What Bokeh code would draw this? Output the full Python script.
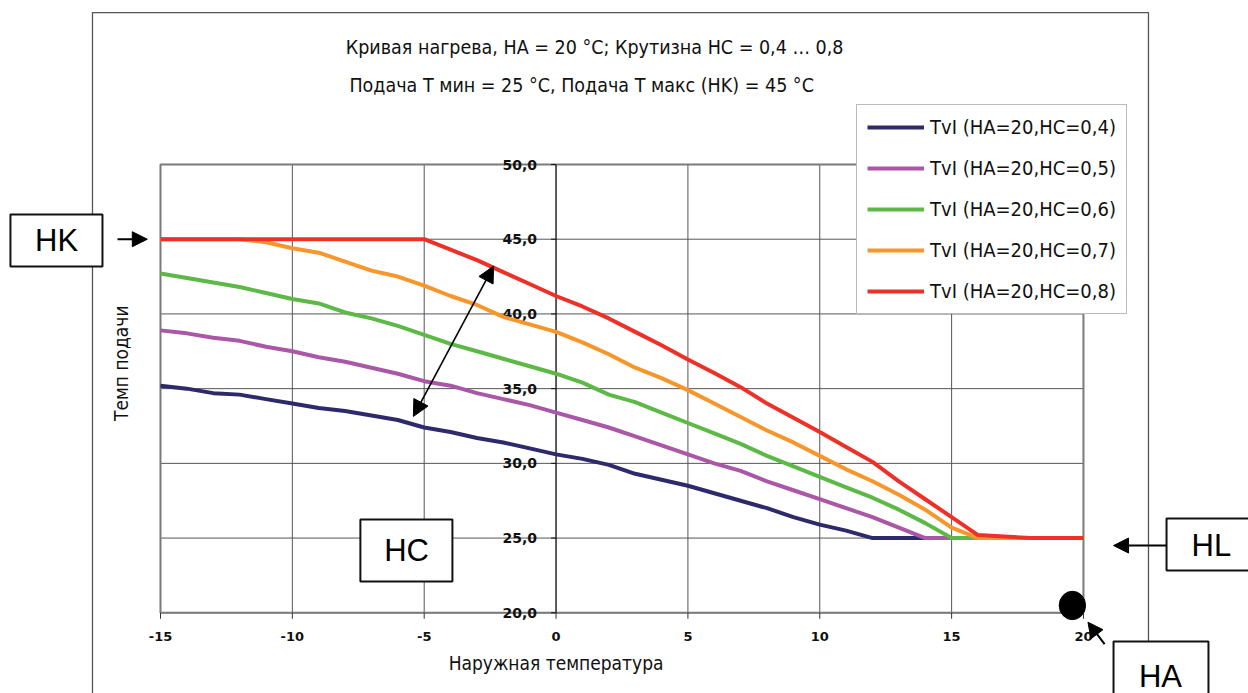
from bokeh.plotting import figure
from bokeh.models import Range1d, Arrow, NormalHead
from bokeh.core.properties import value
from bokeh.embed import file_html
from bokeh.resources import INLINE

# ---------------- data ----------------
temps = list(range(-15, 21))
hc04 = [35.2, 35.0, 34.7, 34.6, 34.3, 34.0, 33.7, 33.5, 33.2, 32.9,
        32.4, 32.1, 31.7, 31.4, 31.0, 30.6, 30.3, 29.9, 29.3, 28.9,
        28.5, 28.0, 27.5, 27.0, 26.4, 25.9, 25.5, 25.0, 25.0, 25.0,
        25.0, 25.0, 25.0, 25.0, 25.0, 25.0]
hc05 = [38.9, 38.7, 38.4, 38.2, 37.8, 37.5, 37.1, 36.8, 36.4, 36.0,
        35.5, 35.2, 34.7, 34.3, 33.9, 33.4, 32.9, 32.4, 31.8, 31.2,
        30.6, 30.0, 29.5, 28.8, 28.2, 27.6, 27.0, 26.4, 25.7, 25.0,
        25.0, 25.0, 25.0, 25.0, 25.0, 25.0]
hc06 = [42.7, 42.4, 42.1, 41.8, 41.4, 41.0, 40.7, 40.1, 39.7, 39.2,
        38.6, 38.0, 37.5, 37.0, 36.5, 36.0, 35.4, 34.6, 34.1, 33.4,
        32.7, 32.0, 31.3, 30.5, 29.8, 29.1, 28.4, 27.7, 26.9, 26.0,
        25.0, 25.0, 25.0, 25.0, 25.0, 25.0]
hc07 = [45.0, 45.0, 45.0, 45.0, 44.8, 44.4, 44.1, 43.5, 42.9, 42.5,
        41.9, 41.2, 40.6, 39.8, 39.3, 38.8, 38.1, 37.3, 36.4, 35.7,
        34.9, 34.0, 33.1, 32.2, 31.4, 30.5, 29.6, 28.8, 27.9, 26.9,
        25.7, 25.0, 25.0, 25.0, 25.0, 25.0]
hc08 = [45.0, 45.0, 45.0, 45.0, 45.0, 45.0, 45.0, 45.0, 45.0, 45.0,
        45.0, 44.3, 43.6, 42.8, 42.0, 41.2, 40.5, 39.7, 38.8, 37.9,
        36.95, 36.05, 35.1, 34.0, 33.05, 32.1, 31.1, 30.1, 28.8, 27.6,
        26.4, 25.2, 25.1, 25.0, 25.0, 25.0]

series = [hc04, hc05, hc06, hc07, hc08]
series_names = ["TvI (HA=20,HC=0,4)", "TvI (HA=20,HC=0,5)", "TvI (HA=20,HC=0,6)",
                "TvI (HA=20,HC=0,7)", "TvI (HA=20,HC=0,8)"]
colors = ["#2d2a6c", "#a957a6", "#5cb946", "#f7962b", "#ee3128"]

x_ticks = [-15, -10, -5, 0, 5, 10, 15, 20]
x_tick_labels = ["-15", "-10", "-5", "0", "5", "10", "15", "20"]
y_ticks = [20, 25, 30, 35, 40, 45, 50]
y_tick_labels = ["20,0", "25,0", "30,0", "35,0", "40,0", "45,0", "50,0"]

title1 = "Кривая нагрева, HA = 20 °C; Крутизна HC = 0,4 … 0,8"
title2 = "Подача Т мин = 25 °C, Подача Т макс (HK) = 45 °C"
x_title = "Наружная температура"
y_title = "Темп подачи"

NARROW_NAME = "DejaVu Sans Condensed, Roboto, sans-serif"
NARROW = value(NARROW_NAME)
ARIAL = value("Liberation Sans")
TICKF = value("DejaVu Sans")

# ---------------- figure ----------------
W, H = 1248, 693
XR = (-21.067, 26.258)
YR = (14.599, 60.975)
sx = W / (XR[1] - XR[0])
sy = H / (YR[1] - YR[0])

p = figure(width=W, height=H, x_range=Range1d(*XR), y_range=Range1d(*YR),
           output_backend="svg", toolbar_location=None,
           x_axis_type=None, y_axis_type=None, min_border=0,
           outline_line_color=None, background_fill_color="white",
           border_fill_color="white")
p.min_border_left = p.min_border_right = p.min_border_top = p.min_border_bottom = 0

# outer frame
fx0, fx1, fy1 = -17.579, 22.465, 60.17
p.line(x=[fx0, fx0, fx1, fx1], y=[YR[0] - 1, fy1, fy1, YR[0] - 1],
       line_color="#555555", line_width=1.3)

# grid
xmin, xmax, ymin, ymax = x_ticks[0], x_ticks[-1], y_ticks[0], y_ticks[-1]
p.segment(x0=x_ticks, y0=[ymin] * len(x_ticks), x1=x_ticks, y1=[ymax] * len(x_ticks),
          line_color="#555555", line_width=1)
p.segment(x0=[xmin] * len(y_ticks), y0=y_ticks, x1=[xmax] * len(y_ticks), y1=y_ticks,
          line_color="#555555", line_width=1)
p.quad(left=[xmin], right=[xmax], bottom=[ymin], top=[ymax], fill_color=None,
       line_color="#7a7a7a", line_width=2)
# vertical axis at 0
p.segment(x0=[0], y0=[ymin], x1=[0], y1=[ymax], line_color="#111111", line_width=1)
# ticks
p.segment(x0=x_ticks, y0=[ymin] * len(x_ticks), x1=x_ticks,
          y1=[ymin - 6 / sy] * len(x_ticks), line_color="#333333", line_width=1)
p.segment(x0=[0] * len(y_ticks), y0=y_ticks, x1=[-5 / sx] * len(y_ticks), y1=y_ticks,
          line_color="#111111", line_width=1)

# tick labels
p.text(x=x_ticks, y=[ymin - 24 / sy] * len(x_ticks), text=x_tick_labels,
       text_align="center", text_baseline="middle", text_font=TICKF,
       text_font_style="bold", text_font_size="13px", text_color="#111111")
p.text(x=[0] * len(y_ticks), y=y_ticks, text=y_tick_labels, x_offset=-19,
       text_align="right", text_baseline="middle", text_font=TICKF,
       text_font_style="bold", text_font_size="14px", text_color="#111111")

# axis titles and title
p.text(x=[0.0], y=[16.67], text=[x_title], text_align="center", text_baseline="middle",
       text_font=NARROW, text_font_size="19px", text_color="#111111")
p.text(x=[-16.48], y=[36.7], text=[y_title], angle=1.5708, text_align="center",
       text_baseline="middle", text_font=NARROW, text_font_size="19px", text_color="#111111")
p.text(x=[1.46, 0.97], y=[57.83, 55.29], text=[title1, title2], text_align="center",
       text_baseline="middle", text_font=NARROW, text_font_size="19.5px", text_color="#111111")

# curves
for vals, name, col in zip(series, series_names, colors):
    p.line(temps, vals, line_color=col, line_width=4, legend_label=name)

leg = p.legend[0]
leg.location = (856, 379)
leg.border_line_color = "#777777"
leg.border_line_width = 1
leg.background_fill_color = "white"
leg.background_fill_alpha = 1
leg.label_text_font = NARROW_NAME
leg.label_text_font_size = "20px"
leg.label_text_color = "#111111"
leg.glyph_width = 57
leg.glyph_height = 22
leg.label_height = 22
leg.label_standoff = 6
leg.spacing = 17
leg.padding = 10
leg.margin = 0

# double arrow (HC)
p.add_layout(Arrow(start=NormalHead(size=16, fill_color="black", line_color="black"),
                   end=NormalHead(size=16, fill_color="black", line_color="black"),
                   x_start=-5.41, y_start=33.14, x_end=-2.37, y_end=43.2,
                   line_width=1.6, line_color="black"))

# annotation boxes
box_l = [-20.69, -7.42, 23.15, 21.14]
box_r = [-17.20, -3.93, 27.00, 24.74]
box_t = [46.65, 26.24, 26.31, 18.08]
box_b = [43.17, 22.09, 22.83, 14.00]
p.quad(left=box_l, right=box_r, top=box_t, bottom=box_b, fill_color="white",
       line_color="#111111", line_width=2)
p.text(x=[-18.94, -5.67, 24.85, 22.92], y=[44.91, 24.17, 24.5, 15.75],
       text=["HK", "HC", "HL", "HA"], text_align="center", text_baseline="middle",
       text_font=ARIAL, text_font_size="31px", text_color="black")

# arrows to boxes
def head():
    return NormalHead(size=15, fill_color="black", line_color="black")

p.add_layout(Arrow(end=head(), x_start=-16.63, y_start=45.0, x_end=-15.5, y_end=45.0,
                   line_width=2, line_color="black"))
p.add_layout(Arrow(end=head(), x_start=23.15, y_start=24.5, x_end=21.14, y_end=24.5,
                   line_width=2, line_color="black"))
p.add_layout(Arrow(end=head(), x_start=20.80, y_start=17.9, x_end=20.17, y_end=19.37,
                   line_width=2, line_color="black"))

# HA point
p.ellipse(x=[19.58], y=[20.49], width=[1.0], height=[1.9], fill_color="black",
          line_color="black")

open("out.html", "w").write(file_html(p, INLINE))
